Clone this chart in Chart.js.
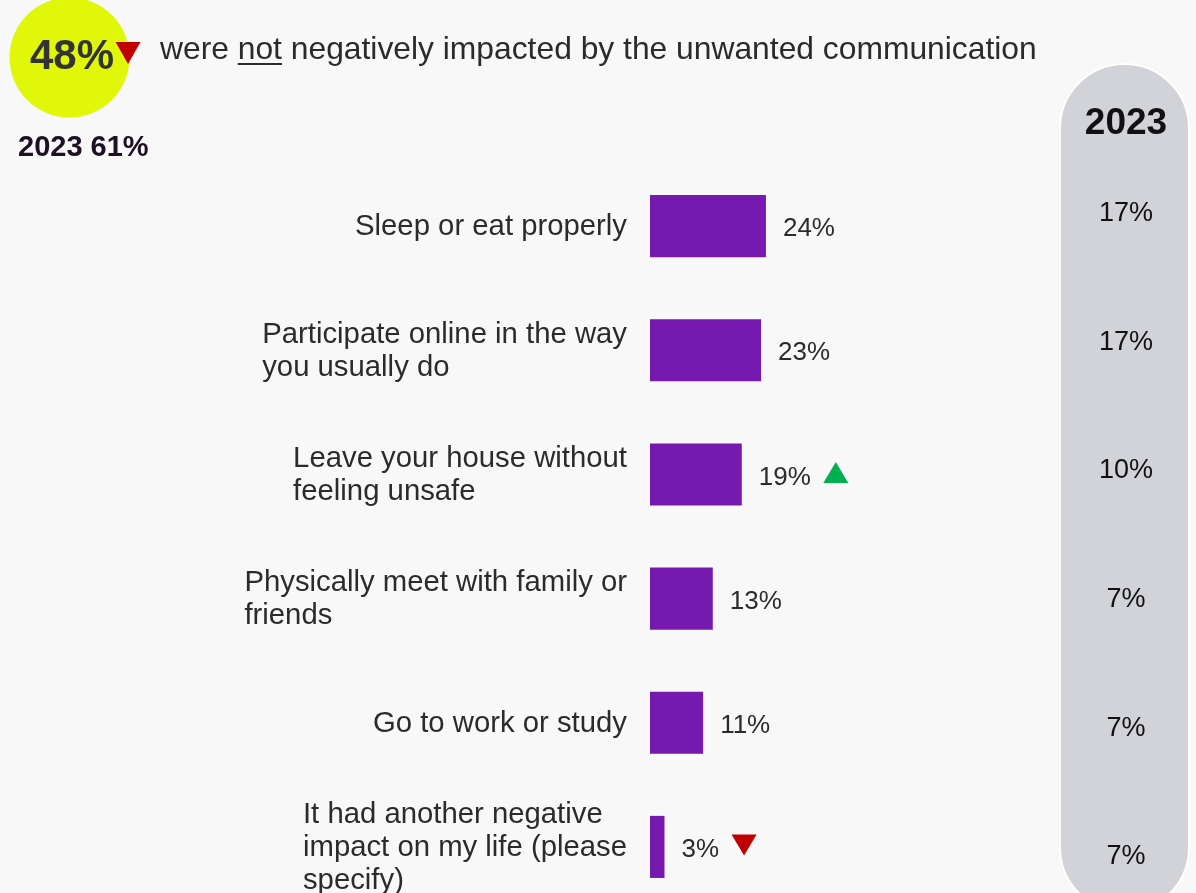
<!DOCTYPE html>
<html>
<head>
<meta charset="utf-8">
<script src="https://cdn.jsdelivr.net/npm/chart.js@4.4.1/dist/chart.umd.min.js"></script>
<style>
  html, body { margin: 0; padding: 0; background: #f8f8f8; overflow: hidden; }
  #wrap { width: 1196px; height: 893px; overflow: hidden; position: relative; }
</style>
</head>
<body>
<div id="wrap"><canvas id="chart" width="1196" height="910"></canvas></div>
<script>
// data
const categories = [
  ['Sleep or eat properly'],
  ['Participate online in the way', 'you usually do'],
  ['Leave your house without', 'feeling unsafe'],
  ['Physically meet with family or', 'friends'],
  ['Go to work or study'],
  ['It had another negative', 'impact on my life (please', 'specify)']
];
const values = [24, 23, 19, 13, 11, 3];
const values2023 = [17, 17, 10, 7, 7, 7];
const changeMarks = [null, null, 'up', null, null, 'down'];

const headlineValue = 48;
const headlineMark = 'down';
const headlinePrev = '2023 61%';
const headlineText = ['were ', 'not', ' negatively impacted by the unwanted communication'];
const compareYear = '2023';

const FONT = '"Liberation Sans", Arial, sans-serif';
const BAR = '#761aaf';
const TEXT = '#2b2b2b';
const RED = '#c00000';
const GREEN = '#00b050';

function triangle(ctx, cx, cy, w, h, dir, color) {
  ctx.save();
  ctx.fillStyle = color;
  ctx.beginPath();
  if (dir === 'up') {
    ctx.moveTo(cx - w / 2, cy + h / 2);
    ctx.lineTo(cx + w / 2, cy + h / 2);
    ctx.lineTo(cx, cy - h / 2);
  } else {
    ctx.moveTo(cx - w / 2, cy - h / 2);
    ctx.lineTo(cx + w / 2, cy - h / 2);
    ctx.lineTo(cx, cy + h / 2);
  }
  ctx.closePath();
  ctx.fill();
  ctx.restore();
}

const decor = {
  id: 'decor',
  beforeDraw(chart) {
    const ctx = chart.ctx;
    ctx.save();
    ctx.fillStyle = '#f8f8f8';
    ctx.fillRect(0, 0, chart.width, chart.height);

    // comparison pill
    const px = 1060, pw = 129, ptop = 64, pbot = 912, r = pw / 2;
    ctx.beginPath();
    ctx.moveTo(px, ptop + r);
    ctx.arc(px + r, ptop + r, r, Math.PI, 0);
    ctx.lineTo(px + pw, pbot - r);
    ctx.arc(px + r, pbot - r, r, 0, Math.PI);
    ctx.closePath();
    ctx.fillStyle = '#d2d3d8';
    ctx.fill();
    ctx.lineWidth = 2;
    ctx.strokeStyle = '#ffffff';
    ctx.stroke();

    // headline circle
    ctx.beginPath();
    ctx.arc(69.5, 57.5, 60, 0, Math.PI * 2);
    ctx.fillStyle = '#e0f70a';
    ctx.fill();
    ctx.restore();
  },
  afterDraw(chart) {
    const ctx = chart.ctx;
    const x = chart.scales.x, y = chart.scales.y;
    ctx.save();

    // headline
    ctx.textBaseline = 'alphabetic';
    ctx.textAlign = 'left';
    ctx.fillStyle = '#333333';
    ctx.font = 'bold 42px ' + FONT;
    const hl = headlineValue + '%';
    ctx.fillText(hl, 30, 69);
    const hlEnd = 30 + ctx.measureText(hl).width;
    triangle(ctx, hlEnd + 14, 53, 25, 22, headlineMark, RED);

    ctx.fillStyle = '#1c1022';
    ctx.font = 'bold 29px ' + FONT;
    ctx.fillText(headlinePrev, 18, 156);

    ctx.fillStyle = TEXT;
    ctx.font = '31.8px ' + FONT;
    let tx = 160;
    headlineText.forEach((part, i) => {
      const w = ctx.measureText(part).width;
      ctx.fillText(part, tx, 59);
      if (i === 1) ctx.fillRect(tx, 63, w, 2);
      tx += w;
    });

    // comparison column
    ctx.textAlign = 'center';
    ctx.fillStyle = '#111111';
    ctx.font = 'bold 37px ' + FONT;
    ctx.fillText(compareYear, 1126, 134);
    ctx.font = '27px ' + FONT;
    ctx.textBaseline = 'middle';
    values2023.forEach((v, i) => {
      // rows in the pill are spaced slightly wider than the bars
      const cy = y.getPixelForValue(i) + 4.5 * i - 12.5;
      ctx.fillText(v + '%', 1126, cy);
    });

    // category labels: block right-aligned, lines left-aligned
    ctx.fillStyle = TEXT;
    ctx.font = '29.3px ' + FONT;
    ctx.textAlign = 'left';
    categories.forEach((lines, i) => {
      const cy = y.getPixelForValue(i);
      const maxW = Math.max(...lines.map(l => ctx.measureText(l).width));
      const left = x.left - 23 - maxW;
      lines.forEach((l, j) => {
        ctx.fillText(l, left, cy + 1 + (j - (lines.length - 1) / 2) * 33);
      });
    });

    // value labels and change markers
    ctx.font = '26px ' + FONT;
    values.forEach((v, i) => {
      const cy = y.getPixelForValue(i) + 3;
      const lx = x.getPixelForValue(v) + 17;
      const s = v + '%';
      ctx.fillText(s, lx, cy);
      const mark = changeMarks[i];
      if (mark) {
        const end = lx + ctx.measureText(s).width;
        triangle(ctx, end + 25, cy - 5, 25, 21, mark, mark === 'up' ? GREEN : RED);
      }
    });
    ctx.restore();
  }
};

new Chart(document.getElementById('chart'), {
  type: 'bar',
  data: {
    labels: categories,
    datasets: [{
      data: values,
      backgroundColor: BAR,
      borderWidth: 0,
      barPercentage: 0.5,
      categoryPercentage: 1.0
    }]
  },
  options: {
    indexAxis: 'y',
    responsive: false,
    animation: false,
    devicePixelRatio: 1,
    layout: { padding: { left: 650, right: 63, top: 164, bottom: 1 } },
    plugins: { legend: { display: false }, tooltip: { enabled: false } },
    scales: {
      x: { display: false, min: 0, max: 100 },
      y: { display: false }
    }
  },
  plugins: [decor]
});
</script>
</body>
</html>
